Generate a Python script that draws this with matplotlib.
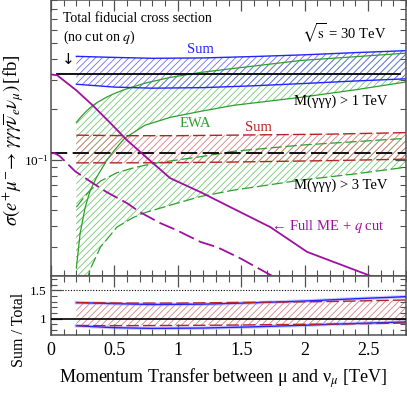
import numpy as np
import matplotlib
matplotlib.use("Agg")
import matplotlib.pyplot as plt
from matplotlib.ticker import MultipleLocator, LogLocator, NullFormatter, FixedLocator, FixedFormatter

plt.rcParams['font.family'] = ['Liberation Serif', 'DejaVu Serif']
plt.rcParams['mathtext.fontset'] = 'stix'
plt.rcParams['hatch.linewidth'] = 0.6

# ---------------- data ----------------
total_fid = 0.324          # total fiducial cross section, M>1 TeV
total_fid_m3 = 0.109       # total fiducial cross section, M>3 TeV
total_x = [0.05, 2.75]
total_m3_x = [0.0, 2.8]

# Full ME + q cut (M>1 TeV)
q_x = [0.0, 0.05, 0.07, 0.2, 0.33, 0.47, 0.6, 0.76, 0.94, 1.18, 1.43, 1.73, 2.02, 2.5, 2.8]
q_y = [0.324, 0.320, 0.311, 0.260, 0.211, 0.165, 0.1305, 0.1018, 0.0773, 0.0637, 0.0511, 0.0393, 0.0279, 0.0203, 0.0166]
# Full ME + q cut (M>3 TeV)
q3_x = [0.0, 0.03, 0.07, 0.19, 0.33, 0.44, 0.60, 0.70, 0.86, 0.99, 1.18, 1.31, 1.49, 1.73, 2.0]
q3_y = [0.109, 0.109, 0.1047, 0.085, 0.0721, 0.0637, 0.0547, 0.0484, 0.0416, 0.0377, 0.032, 0.0298, 0.0256, 0.0203, 0.0160]

# Sum band, M>1 TeV
sum1_x = [0.2, 0.5, 0.8, 1.2, 1.6, 2.0, 2.4, 2.8]
sum1_hi = [0.416, 0.410, 0.405, 0.407, 0.415, 0.425, 0.438, 0.450]
sum1_lo = [0.283, 0.272, 0.268, 0.270, 0.277, 0.286, 0.296, 0.305]

# Sum band, M>3 TeV
sum3_x = [0.2, 0.6, 1.0, 1.4, 1.8, 2.2, 2.6, 2.8]
sum3_hi = [0.140, 0.139, 0.139, 0.140, 0.141, 0.142, 0.144, 0.145]
sum3_lo = [0.0955, 0.0955, 0.0958, 0.0965, 0.0975, 0.0985, 0.0998, 0.1005]

# EWA band, M>1 TeV
ewa1_x = [0.2, 0.23, 0.27, 0.31, 0.36, 0.44, 0.5, 0.58, 0.74, 0.94, 1.18, 1.44, 1.97, 2.4, 2.8]
ewa1_hi = [0.167, 0.178, 0.192, 0.205, 0.219, 0.237, 0.249, 0.263, 0.287, 0.311, 0.333, 0.352, 0.393, 0.414, 0.435]
ewa1_lo = [0.0223, 0.0362, 0.0518, 0.0655, 0.0783, 0.099, 0.1137, 0.134, 0.1605, 0.179, 0.1946, 0.2114, 0.2361, 0.262, 0.292]

# EWA band, M>3 TeV
ewa3_x = [0.2, 0.25, 0.29, 0.31, 0.39, 0.52, 0.64, 0.73, 0.82, 0.94, 1.18, 1.44, 1.97, 2.4, 2.8]
ewa3_hi = [0.0518, 0.058, 0.063, 0.0655, 0.0742, 0.0833, 0.0887, 0.092, 0.095, 0.098, 0.104, 0.112, 0.122, 0.128, 0.134]
ewa3_lo = [0.0125, 0.016, 0.0197, 0.022, 0.0298, 0.0393, 0.0445, 0.0477, 0.050, 0.0532, 0.060, 0.0655, 0.0752, 0.082, 0.0899]

# ---------------- style ----------------
BLUE = '#2424ff'
BLUE_H = '#7070f0'
RED = '#b52424'
RED_H = '#d68080'
GREEN = '#2ca02c'
GREEN_H = '#74c874'
PURPLE = '#a010a0'
SPINE = '#505050'
DASH = (9, 3)

fig = plt.figure(figsize=(4.07, 3.95), dpi=100)
ax = fig.add_axes([51/407, 1 - 276/395, 355/407, 275.5/395])
axr = fig.add_axes([51/407, 1 - 335/395, 355/407, 59/395], sharex=ax)

def band(a, x, lo, hi, hcol, ecol, ls, lw=1.0):
    a.fill_between(x, lo, hi, facecolor='none', edgecolor=hcol, hatch='/////', linewidth=0, zorder=1)
    if ls == 'solid':
        a.plot(x, lo, color=ecol, lw=lw, zorder=2)
        a.plot(x, hi, color=ecol, lw=lw, zorder=2)
    else:
        a.plot(x, lo, color=ecol, lw=lw, dashes=DASH, zorder=2)
        a.plot(x, hi, color=ecol, lw=lw, dashes=DASH, zorder=2)

ax.set_yscale('log')
band(ax, ewa1_x, ewa1_lo, ewa1_hi, GREEN_H, GREEN, 'solid', 0.9)
band(ax, ewa3_x, ewa3_lo, ewa3_hi, GREEN_H, GREEN, 'dashed', 0.9)
band(ax, sum3_x, sum3_lo, sum3_hi, RED_H, RED, 'dashed', 1.0)
band(ax, sum1_x, sum1_lo, sum1_hi, BLUE_H, BLUE, 'solid', 1.0)

ax.plot(total_x, [total_fid, total_fid], color='black', lw=1.3, zorder=3)
ax.plot(total_m3_x, [total_fid_m3, total_fid_m3], color='black', lw=1.3, dashes=DASH, zorder=3)
ax.plot(q_x, q_y, color=PURPLE, lw=1.3, zorder=4)
ax.plot(q3_x, q3_y, color=PURPLE, lw=1.3, dashes=DASH, zorder=4)

ax.set_xlim(0, 2.8)
ax.set_ylim(0.02, 0.9)
ax.yaxis.set_major_locator(LogLocator(base=10))
ax.yaxis.set_minor_locator(LogLocator(base=10, subs=np.arange(2, 10)))
ax.yaxis.set_minor_formatter(NullFormatter())

# texts
ax.text(0.034, 0.935, 'Total fiducial cross section', transform=ax.transAxes, fontsize=10, va='center', ha='left')
ax.text(0.034, 0.866, '(no cut on $q$)', transform=ax.transAxes, fontsize=10, va='center', ha='left')
ax.text(0.944, 0.880, r'$\sqrt{\mathrm{s}}$ = 30 TeV', transform=ax.transAxes, fontsize=10.5, va='center', ha='right')
ax.text(0.048, 0.785, '↓', transform=ax.transAxes, fontsize=11, va='center', ha='center', family=['DejaVu Sans'])
ax.text(0.42, 0.822, 'Sum', transform=ax.transAxes, fontsize=10.5, va='center', ha='center', color=BLUE)
ax.text(0.817, 0.634, 'M(γγγ) > 1 TeV', transform=ax.transAxes, fontsize=10.5, va='center', ha='center')
ax.text(0.408, 0.554, 'EWA', transform=ax.transAxes, fontsize=10.5, va='center', ha='center', color=GREEN)
ax.text(0.585, 0.540, 'Sum', transform=ax.transAxes, fontsize=10.5, va='center', ha='center', color=RED)
ax.text(0.817, 0.330, 'M(γγγ) > 3 TeV', transform=ax.transAxes, fontsize=10.5, va='center', ha='center')
ax.text(0.781, 0.178, '← Full ME + $q$ cut', transform=ax.transAxes, fontsize=10.5, va='center', ha='center', color=PURPLE)

# ratio panel
sum1_ratio_hi = np.array(sum1_hi) / total_fid
sum1_ratio_lo = np.array(sum1_lo) / total_fid
sum3_ratio_hi = np.array(sum3_hi) / total_fid_m3
sum3_ratio_lo = np.array(sum3_lo) / total_fid_m3

axr.axhline(1.5, color='black', lw=0.8, ls=(0, (1, 1.5)), zorder=1)
axr.fill_between(sum3_x, sum3_ratio_lo, sum3_ratio_hi, facecolor='none', edgecolor=RED_H, hatch='/////', linewidth=0, zorder=1)
for yy in (sum1_ratio_lo, sum1_ratio_hi):
    axr.plot(sum1_x, yy, color='#9a9aff', lw=2.6, alpha=0.5, zorder=2)
    axr.plot(sum1_x, yy, color=BLUE, lw=1.0, zorder=3)
for yy in (sum3_ratio_lo, sum3_ratio_hi):
    axr.plot(sum3_x, yy, color=RED, lw=1.0, dashes=DASH, zorder=3)
axr.axhline(1.0, color='black', lw=1.2, zorder=4)
axr.set_ylim(0.71, 1.755)
axr.yaxis.set_major_locator(FixedLocator([1.0, 1.5]))
axr.yaxis.set_major_formatter(FixedFormatter(['1', '1.5']))
axr.yaxis.set_minor_locator(MultipleLocator(0.1))
axr.xaxis.set_minor_locator(MultipleLocator(0.1))
axr.set_xticks([0, 0.5, 1, 1.5, 2, 2.5])
axr.set_xticklabels(['0', '0.5', '1', '1.5', '2', '2.5'])

for a in (ax, axr):
    for s in a.spines.values():
        s.set_color(SPINE)
        s.set_linewidth(1.1)
    a.tick_params(which='both', direction='in', top=True, right=True, color=SPINE)
    a.tick_params(which='major', length=8, width=0.9)
    a.tick_params(which='minor', length=4.5, width=0.8)

ax.tick_params(axis='x', labelbottom=False)
ax.tick_params(axis='y', labelsize=9.5, pad=2)
axr.tick_params(axis='x', labelsize=13, pad=5)
axr.tick_params(axis='y', labelsize=9.5)

fig.text(13/407, 1 - 140/395,
         r'$\sigma(e^{+}\mu^{-}\!\rightarrow\,\gamma\gamma\gamma\overline{\nu}_{e}\nu_{\mu})\,$[fb]',
         rotation=90, ha='center', va='center', fontsize=13.5)
fig.text(19/407, 1 - 330/395, 'Sum / Total', rotation=90, ha='center', va='center', fontsize=11.5)
fig.text(223/407, 1 - 378/395, r'Momentum Transfer between μ and ν$_{\mu}$ [TeV]',
         ha='center', va='center', fontsize=13)

fig.savefig('out.png', dpi=100)
